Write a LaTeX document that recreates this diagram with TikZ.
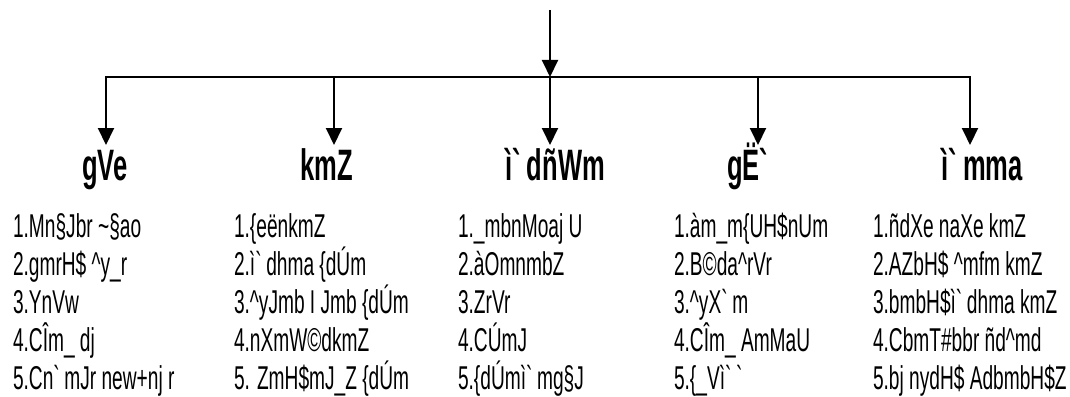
\documentclass[tikz,border=0pt]{standalone}
\usepackage{fontspec}
\setmainfont[FakeStretch=0.58]{Liberation Sans}
\usetikzlibrary{arrows.meta,positioning}

\begin{document}
\begin{tikzpicture}[x=1pt,y=-1pt,line width=2pt,-{Triangle[width=16pt,length=17pt]}]
  \tikzstyle{head}=[font=\fontsize{44}{44}\selectfont\bfseries,anchor=base,inner sep=0pt]
  \tikzstyle{item}=[font=\fontsize{33}{33}\selectfont,anchor=base west,inner sep=0pt]
  \useasboundingbox (0,0) rectangle (1070,396);
  \coordinate (top) at (550,10);
  \coordinate (hub) at (550,77);
  \draw (top) -- (hub);
  \foreach \name/\x/\hx/\text in {a/106/105/{gVe},b/334/327/{kmZ},c/550/555/{ì\textasciigrave dñWm},d/758/751/{gË\textasciigrave},e/970/982/{ì\textasciigrave mma}}{
    \coordinate (B-\name) at (\x,77);
    \coordinate (T-\name) at (\x,145);
    \node[head] (\name) at (\hx,180) {\text};
    \draw (B-\name) -- (T-\name);
  }
  \draw[-,line cap=rect] (B-a) -- (B-e);
  % lists under each heading
  \foreach \i/\t in {1/{1.Mn§Jbr \textasciitilde§ao},2/{2.gmrH\$ \textasciicircum y\_r},3/{3.YnVw},4/{4.CÎm\_ dj},5/{5.Cn\textasciigrave mJr new+nj r}}
    \node[item] (a-\i) at (12,199+38*\i) {\t};
  \foreach \i/\t in {1/{1.\{eënkmZ},2/{2.ì\textasciigrave dhma \{dÚm},3/{3.\textasciicircum yJmb I Jmb \{dÚm},4/{4.nXmW©dkmZ},5/{5. ZmH\$mJ\_Z \{dÚm}}
    \node[item] (b-\i) at (233,199+38*\i) {\t};
  \foreach \i/\t in {1/{1.\_mbnMoaj U},2/{2.àOmnmbZ},3/{3.ZrVr},4/{4.CÚmJ},5/{5.\{dÚmì\textasciigrave mg§J}}
    \node[item] (c-\i) at (457,199+38*\i) {\t};
  \foreach \i/\t in {1/{1.àm\_m\{UH\$nUm},2/{2.B©da\textasciicircum rVr},3/{3.\textasciicircum yX\textasciigrave m},4/{4.CÎm\_ AmMaU},5/{5.\{\_Vì\textasciigrave\textasciigrave}}
    \node[item] (d-\i) at (673,199+38*\i) {\t};
  \foreach \i/\t in {1/{1.ñdXe naXe kmZ},2/{2.AZbH\$ \textasciicircum mfm kmZ},3/{3.bmbH\$ì\textasciigrave dhma kmZ},4/{4.CbmT\#bbr ñd\textasciicircum md},5/{5.bj nydH\$ AdbmbH\$Z}}
    \node[item] (e-\i) at (872,199+38*\i) {\t};
\end{tikzpicture}
\end{document}
